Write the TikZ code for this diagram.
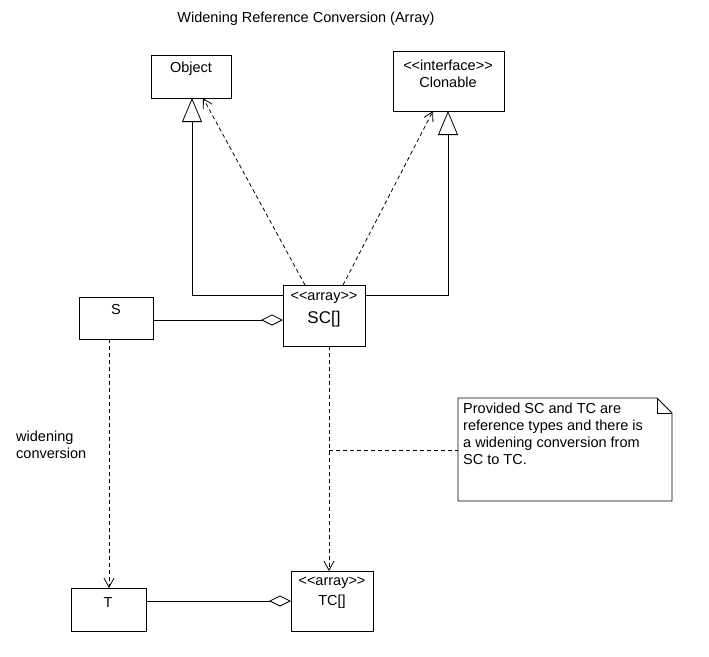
\documentclass[tikz,border=0pt]{standalone}
\usepackage{fontspec}
\setmainfont{Liberation Sans}
\usetikzlibrary{arrows.meta}
\begin{document}
\begin{tikzpicture}[x=1pt,y=-1pt,
  box/.style={draw,line width=0.8pt,fill=white},
  txt/.style={font=\fontsize{14.5}{17}\selectfont,inner sep=0pt},
  big/.style={font=\fontsize{17}{19}\selectfont,inner sep=0pt},
  ln/.style={line width=0.8pt},
  dep/.style={ln,dashed,dash pattern=on 4pt off 3pt,-{Straight Barb[length=9pt,width=10pt]}},
  gen/.style={ln,-{Triangle[open,length=24pt,width=20pt]}},
  agg/.style={ln,-{Diamond[open,length=22pt,width=11pt]}}]
\useasboundingbox (0,0) rectangle (709,656);
\node[txt] (title) at (306,19) {Widening Reference Conversion (Array)};
\draw[box] (151,55) rectangle (231,98);
\node[txt] (objt) at (191,69) {Object};
\draw[box] (393,51) rectangle (504,111);
\node[txt] (clt1) at (448,65) {<{}<interface>{}>};
\node[txt] (clt2) at (448,82) {Clonable};
\draw[box] (283,285) rectangle (365,346);
\node[txt] (sc1) at (324,298) {<{}<array>{}>};
\node[big] (sc2) at (324,319) {SC[]};
\draw[box] (79,297) rectangle (153,339);
\node[txt] (s) at (116,310) {S};
\draw[box] (71,588) rectangle (146,631);
\node[txt] (t) at (108,603) {T};
\draw[box] (291,571) rectangle (373,631);
\node[txt] (tc1) at (332,583) {<{}<array>{}>};
\node[txt] (tc2) at (332,602) {TC[]};
\draw[box] (458,398) -- (657,398) -- (672,413) -- (672,501) -- (458,501) -- cycle;
\draw[ln] (657,398) -- (657,413) -- (672,413);
\node[txt,align=left,anchor=north west] (note) at (463,403) {Provided SC and TC are\\reference types and there is\\a widening conversion from\\SC to TC.};
\node[txt,align=left,anchor=north west] (wc) at (16,431) {widening\\conversion};
\coordinate (a1) at (283,295); \coordinate (a2) at (192,295); \coordinate (a3) at (192,98);
\draw[gen] (a1) -- (a2) -- (a3);
\coordinate (b1) at (365,295); \coordinate (b2) at (448,295); \coordinate (b3) at (448,111);
\draw[gen] (b1) -- (b2) -- (b3);
\coordinate (c1) at (305,285); \coordinate (c2) at (203,98);
\draw[dep] (c1) -- (c2);
\coordinate (d1) at (343,285); \coordinate (d2) at (433,111);
\draw[dep] (d1) -- (d2);
\coordinate (e1) at (153,320); \coordinate (e2) at (283,320);
\draw[agg] (e1) -- (e2);
\coordinate (f1) at (109,339); \coordinate (f2) at (109,588);
\draw[dep] (f1) -- (f2);
\coordinate (g1) at (329,346); \coordinate (g2) at (329,571);
\draw[dep] (g1) -- (g2);
\coordinate (h1) at (329,450); \coordinate (h2) at (458,450);
\draw[ln,dashed,dash pattern=on 4pt off 3pt] (h1) -- (h2);
\coordinate (i1) at (146,601); \coordinate (i2) at (291,601);
\draw[agg] (i1) -- (i2);
\end{tikzpicture}
\end{document}
